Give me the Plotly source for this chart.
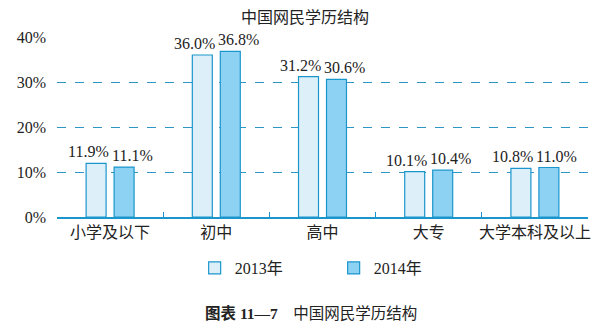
import plotly.graph_objects as go

categories = ["小学及以下", "初中", "高中", "大专", "大学本科及以上"]
v2013 = [11.9, 36.0, 31.2, 10.1, 10.8]
v2014 = [11.1, 36.8, 30.6, 10.4, 11.0]
labels2013 = ["11.9%", "36.0%", "31.2%", "10.1%", "10.8%"]
labels2014 = ["11.1%", "36.8%", "30.6%", "10.4%", "11.0%"]
ytickvals = [0, 10, 20, 30, 40]
yticktext = ["0%", "10%", "20%", "30%", "40%"]

SERIF = "Liberation Serif, Times New Roman, Noto Sans CJK SC, serif"
EDGE = "#1A96CC"
TXT = "#222"

fig = go.Figure()
fig.add_bar(name="2013年", x=categories, y=v2013,
            marker=dict(color="#DDF0FA", line=dict(color=EDGE, width=1.2)))
fig.add_bar(name="2014年", x=categories, y=v2014,
            marker=dict(color="#8ED2F3", line=dict(color=EDGE, width=1.2)))

for cat, val, lab in zip(categories, v2013, labels2013):
    fig.add_annotation(x=cat, y=val, text=lab, showarrow=False,
                       xanchor="center", yanchor="bottom", xshift=-22, yshift=1,
                       font=dict(family=SERIF, size=16, color=TXT))
for cat, val, lab in zip(categories, v2014, labels2014):
    fig.add_annotation(x=cat, y=val, text=lab, showarrow=False,
                       xanchor="center", yanchor="bottom", xshift=22, yshift=1,
                       font=dict(family=SERIF, size=16, color=TXT))

fig.update_layout(
    width=610, height=326,
    margin=dict(l=57, r=22, t=37, b=109),
    paper_bgcolor="white", plot_bgcolor="white",
    barmode="group", bargap=0.473, bargroupgap=0.286,
    font=dict(family=SERIF, size=16, color=TXT),
    title=dict(text="中国网民学历结构", x=0.5, xanchor="center",
               y=1 - 17 / 326, yanchor="middle",
               font=dict(family=SERIF, size=16, color=TXT)),
    showlegend=True,
    legend=dict(orientation="h", x=0.521, xanchor="center",
                y=(217 - 268) / 180, yanchor="middle", yref="paper",
                font=dict(family=SERIF, size=16, color=TXT),
                entrywidth=94, itemwidth=30, bgcolor="rgba(0,0,0,0)"),
    xaxis=dict(showline=True, linecolor=EDGE, linewidth=1.5,
               ticks="inside", tickson="boundaries", ticklen=5,
               tickcolor=EDGE, tickwidth=1.3, showgrid=False, tickangle=0,
               tickfont=dict(family=SERIF, size=16, color=TXT)),
    yaxis=dict(range=[0, 40], tickvals=ytickvals, ticktext=yticktext,
               showgrid=True, gridcolor="#2E95C4", griddash="dash",
               gridwidth=1, zeroline=False, showline=False,
               ticklabelstandoff=10,
               tickfont=dict(family=SERIF, size=16, color=TXT)),
)

fig.add_annotation(text="<b>图表 11—7</b>　中国网民学历结构",
                   xref="paper", yref="paper", x=0.479, y=(217 - 313) / 180,
                   xanchor="center", yanchor="middle", showarrow=False,
                   font=dict(family=SERIF, size=15.5, color=TXT))

fig.write_html("out.html")
